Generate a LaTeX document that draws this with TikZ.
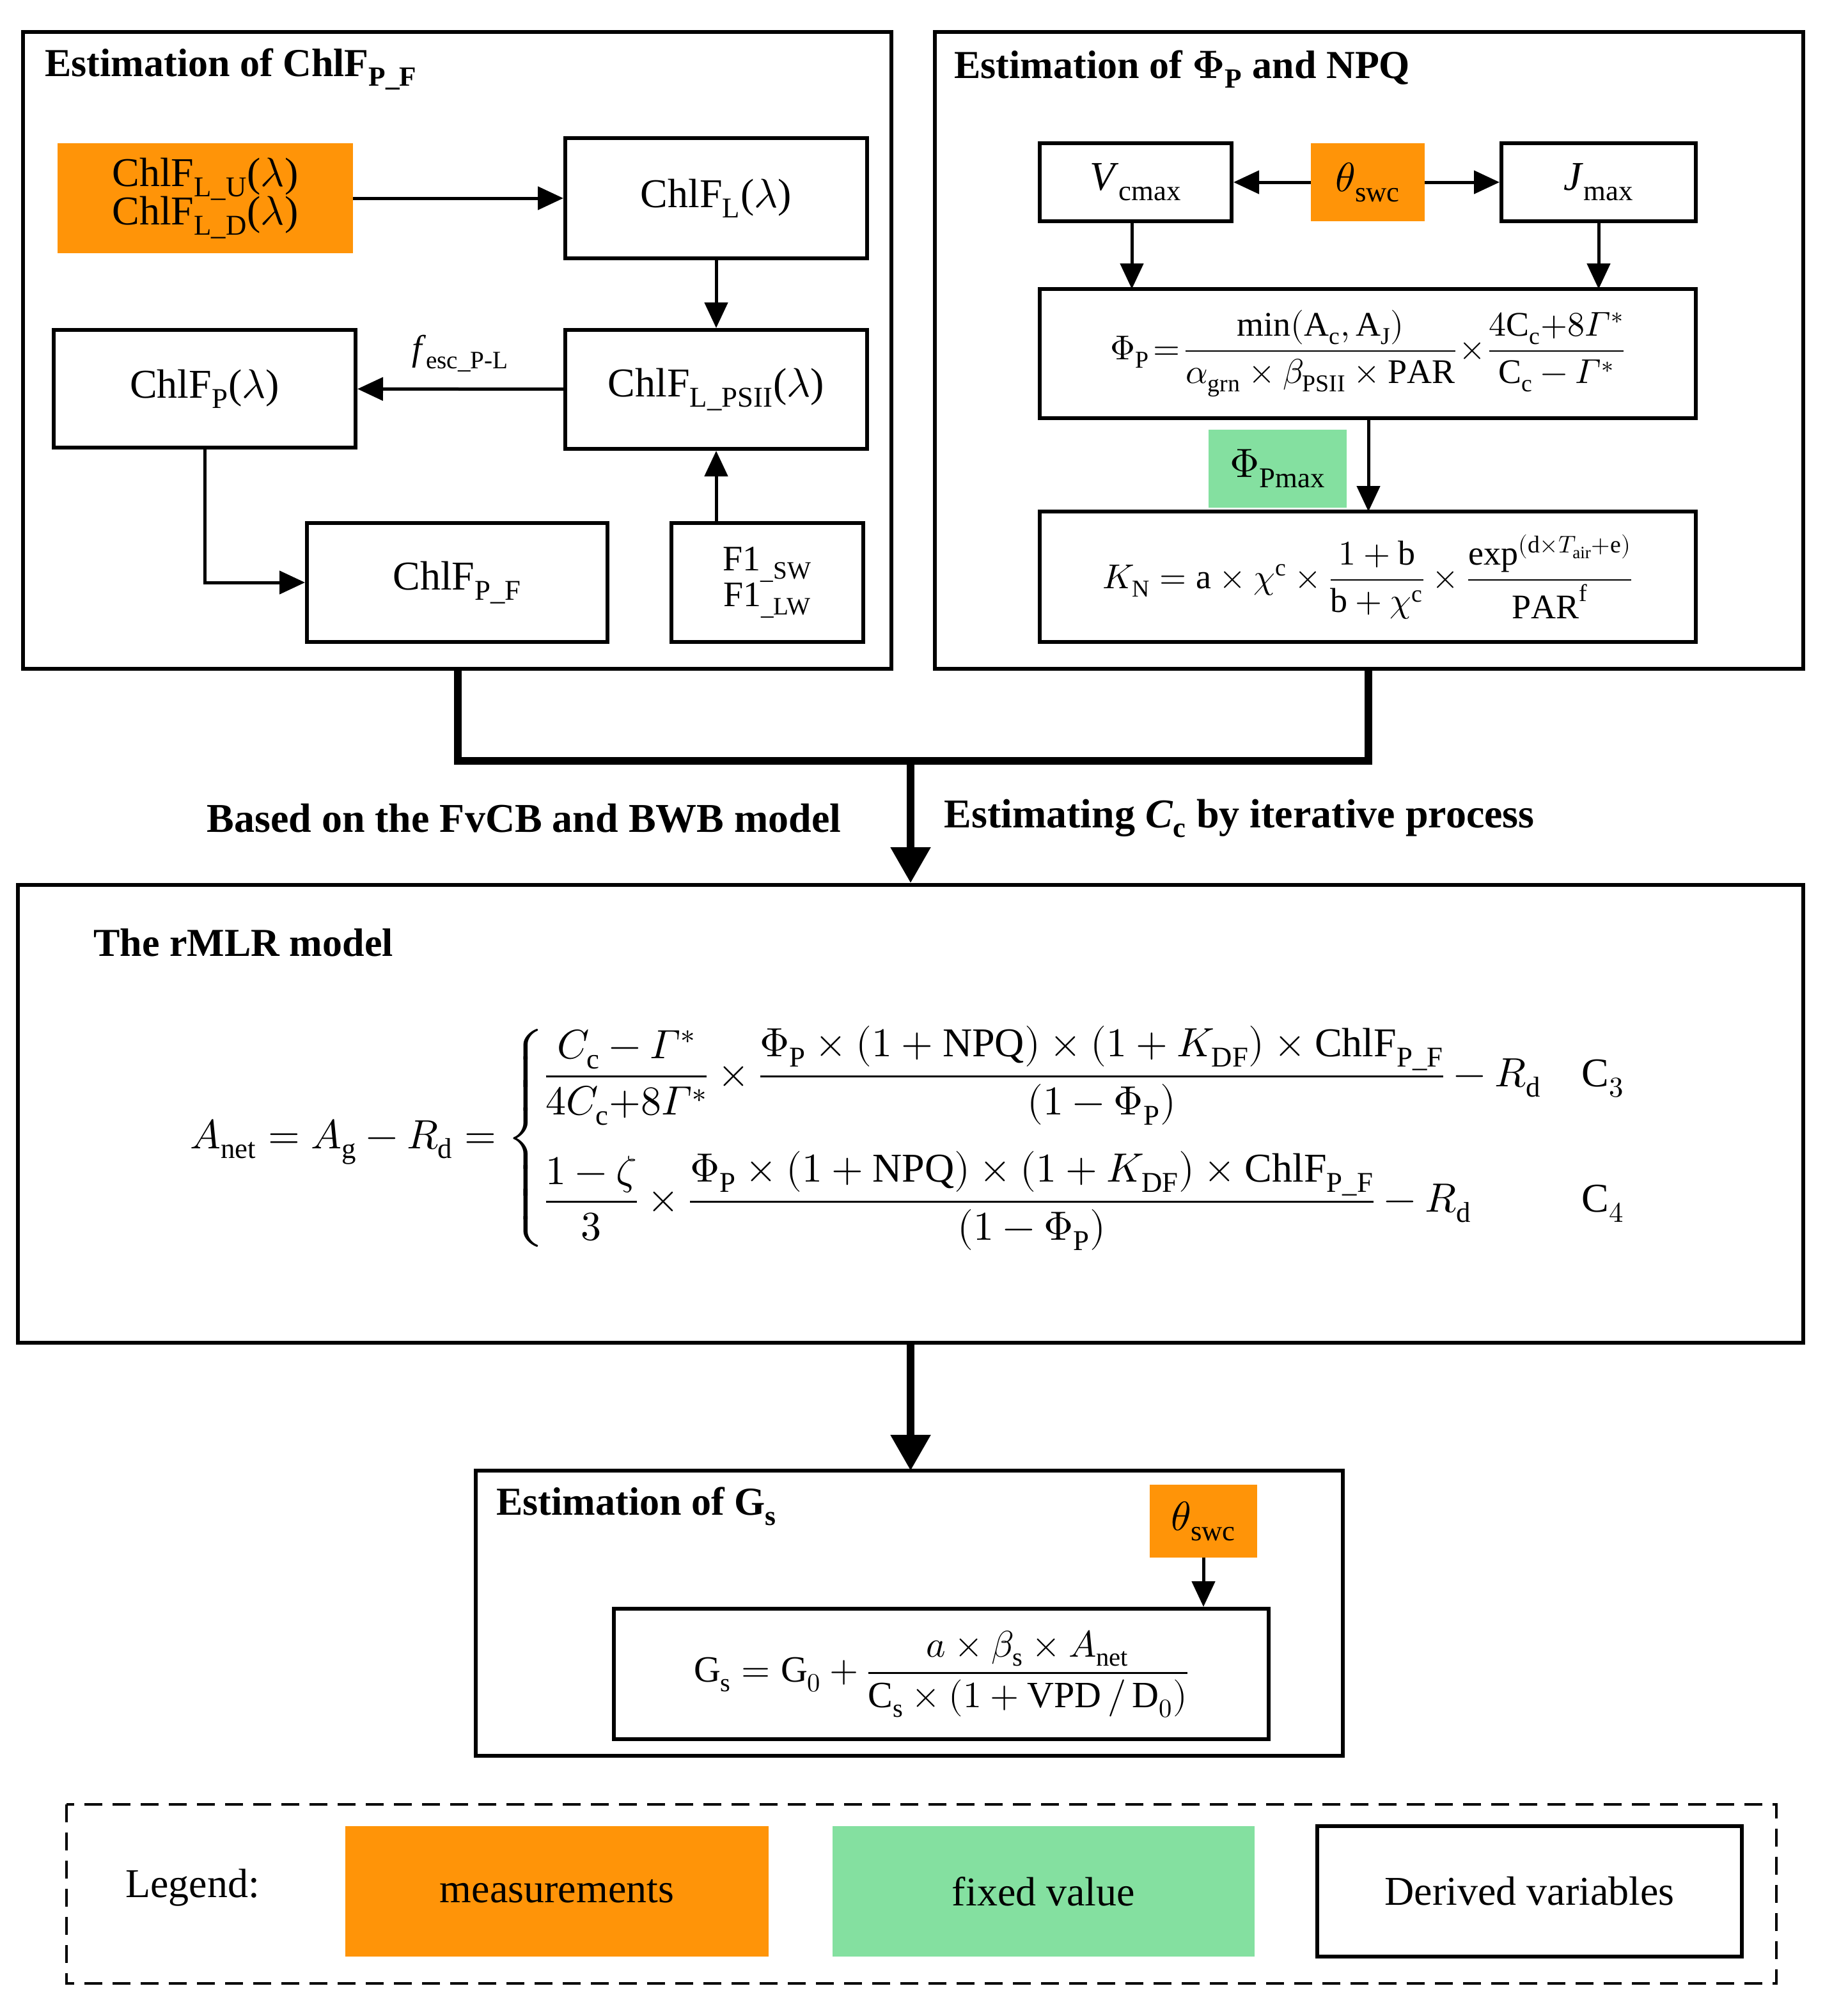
\documentclass[tikz,border=0pt]{standalone}
\usepackage{amsmath}
\usepackage{unicode-math}
\setmainfont{Liberation Serif}
\setmathfont{Latin Modern Math}
\usetikzlibrary{arrows.meta}
\definecolor{meas}{HTML}{FF9408}
\definecolor{fixv}{HTML}{84E0A0}
\newcommand{\Gst}{\symit{\Gamma}^{*}}
\begin{document}
\fontsize{30}{34}\selectfont
\begin{tikzpicture}[x=1pt,y=-1pt,
  box/.style={draw,line width=3pt,inner sep=0pt,align=center,font=\fontsize{32}{36}\selectfont},
  orng/.style={fill=meas,inner sep=0pt,align=center,font=\fontsize{32}{36}\selectfont},
  grn/.style={fill=fixv,inner sep=0pt,align=center,font=\fontsize{32}{36}\selectfont},
  frame/.style={draw,line width=3pt},
  ttl/.style={anchor=west,inner sep=0pt,font=\bfseries\fontsize{31}{34}\selectfont},
  arr/.style={line width=2.5pt,-{Triangle[length=20pt,width=18pt]}},
  thk/.style={line width=6pt},
  thka/.style={line width=6pt,-{Triangle[length=28pt,width=30pt]}},
  lbl/.style={font=\bfseries\fontsize{32}{34}\selectfont}]
\useasboundingbox (0,0) rectangle (1445,1571);
% frames
\draw[frame] (18,25) rectangle (697,523);
\draw[frame] (731,25) rectangle (1410,523);
\node[ttl] at (35,54) {Estimation of ChlF\textsubscript{P\_F}};
\node[ttl] at (746,54) {Estimation of $\symbf\Phi$\textsubscript{P} and NPQ};
% left panel
\node[orng,minimum width=231pt,minimum height=86pt] (u) at (160.5,155) {ChlF\textsubscript{L\_U}($\lambda$)\\[-6pt]ChlF\textsubscript{L\_D}($\lambda$)};
\node[box,minimum width=236pt,minimum height=94pt] (L) at (560,155) {ChlF\textsubscript{L}($\lambda$)};
\node[box,minimum width=236pt,minimum height=93pt] (LP) at (560,304.5) {ChlF\textsubscript{L\_PSII}($\lambda$)};
\node[box,minimum width=236pt,minimum height=92pt] (P) at (160,304) {ChlF\textsubscript{P}($\lambda$)};
\node[box,minimum width=235pt,minimum height=93pt] (PF) at (357.5,455.5) {ChlF\textsubscript{P\_F}};
\node[box,minimum width=150pt,minimum height=93pt,font=\fontsize{28}{32}\selectfont] (F1) at (600,455.5) {F1\textsubscript{\_SW}\\[-4pt]F1\textsubscript{\_LW}};
\draw[arr] (u) -- (L);
\draw[arr] (L) -- (LP);
\draw[arr] (LP) -- node[above,font=\fontsize{28}{32}\selectfont,yshift=2pt]{\textit{f}\textsubscript{esc\_P-L}} (P);
\draw[arr] (F1.north -| LP) -- (LP);
\draw[arr] (P.south) |- (PF.west);
% right panel
\node[box,minimum width=150pt,minimum height=61pt] (V) at (888,142.5) {\textit{V}\textsubscript{cmax}};
\node[orng,minimum width=89pt,minimum height=61pt] (th) at (1069.5,142.5) {$\theta$\textsubscript{swc}};
\node[box,minimum width=152pt,minimum height=61pt] (J) at (1250,142.5) {\textit{J}\textsubscript{max}};
\draw[arr] (th) -- (V);
\draw[arr] (th) -- (J);
\node[box,minimum width=513pt,minimum height=101pt,font=\fontsize{27}{30}\selectfont] (phi) at (1069.5,276.5)
 {$\Phi_{\mathrm P}\!=\!\dfrac{\min(\mathrm{A_c,A_J})}{\alpha_{\mathrm{grn}}\times\beta_{\mathrm{PSII}}\times\mathrm{PAR}}\!\times\!\dfrac{4\mathrm{C_c}{+}8\Gst}{\mathrm{C_c}-\Gst}$};
\draw[arr] (885,173) -- (885,226);
\draw[arr] (1250,173) -- (1250,226);
\node[grn,minimum width=108pt,minimum height=61pt] (pm) at (999,366.5) {$\Phi$\textsubscript{Pmax}};
\node[box,minimum width=513pt,minimum height=102pt,font=\fontsize{27}{30}\selectfont] (KN) at (1069.5,451)
 {$K_{\mathrm N}=\mathrm a\times\chi^{\mathrm c}\times\dfrac{1+\mathrm b}{\mathrm b+\chi^{\mathrm c}}\times\dfrac{\exp^{(\mathrm d\times T_{\mathrm{air}}+\mathrm e)}}{\mathrm{PAR}^{\mathrm f}}$};
\draw[arr] (1070,327) -- (1070,400);
% joining connectors
\coordinate (j) at (712,595);
\draw[thk] (358,523) |- (1070,595) -- (1070,523);
\node[box,minimum width=1396pt,minimum height=358pt] (M) at (712,871) {};
\draw[thka] (j) -- (M.north);
\node[lbl,anchor=east] at (668,640) {Based on the FvCB and BWB model};
\node[lbl,anchor=west] at (728,640) {Estimating \textit{C}\textsubscript{c} by iterative process};
\node[ttl] at (73,737) {The rMLR model};
\node[font=\fontsize{32}{36}\selectfont] (eq) at (710,890) {$A_{\mathrm{net}}=A_{\mathrm g}-R_{\mathrm d}=\left\{\begin{array}{@{}l@{\quad}l@{}}
\dfrac{C_{\mathrm c}-\Gst}{4C_{\mathrm c}{+}8\Gst}\times\dfrac{\Phi_{\mathrm P}\times(1+\mathrm{NPQ})\times(1+K_{\mathrm{DF}})\times\mathrm{ChlF}_{\mathrm{P\_F}}}{(1-\Phi_{\mathrm P})}-R_{\mathrm d} & \mathrm C_3\\[40pt]
\dfrac{1-\zeta}{3}\times\dfrac{\Phi_{\mathrm P}\times(1+\mathrm{NPQ})\times(1+K_{\mathrm{DF}})\times\mathrm{ChlF}_{\mathrm{P\_F}}}{(1-\Phi_{\mathrm P})}-R_{\mathrm d} & \mathrm C_4
\end{array}\right.$};
% Gs
\draw[frame] (372,1150) rectangle (1050,1373);
\draw[thka] (M.south) -- (712,1150);
\node[ttl] at (388,1178) {Estimation of G\textsubscript{s}};
\node[orng,minimum width=84pt,minimum height=57pt] (th2) at (941,1189.5) {$\theta$\textsubscript{swc}};
\node[box,minimum width=512pt,minimum height=102pt,font=\fontsize{29}{32}\selectfont] (gs) at (736,1309)
 {$\mathrm G_{\mathrm s}=\mathrm G_0+\dfrac{a\times\beta_{\mathrm s}\times A_{\mathrm{net}}}{\mathrm C_{\mathrm s}\times(1+\mathrm{VPD}\,/\,\mathrm D_0)}$};
\draw[arr] (th2) -- (th2 |- gs.north);
% legend
\draw[line width=2pt,dash pattern=on 14pt off 8pt] (52,1411) rectangle (1389,1551);
\node[anchor=west,inner sep=0pt,font=\fontsize{32}{36}\selectfont] at (98,1476) {Legend:};
\node[orng,minimum width=331pt,minimum height=102pt] (lm) at (435.5,1479) {measurements};
\node[grn,minimum width=330pt,minimum height=102pt] (lf) at (816,1479) {fixed value};
\node[box,minimum width=332pt,minimum height=102pt] (ld) at (1196,1479) {Derived variables};
\end{tikzpicture}
\end{document}
